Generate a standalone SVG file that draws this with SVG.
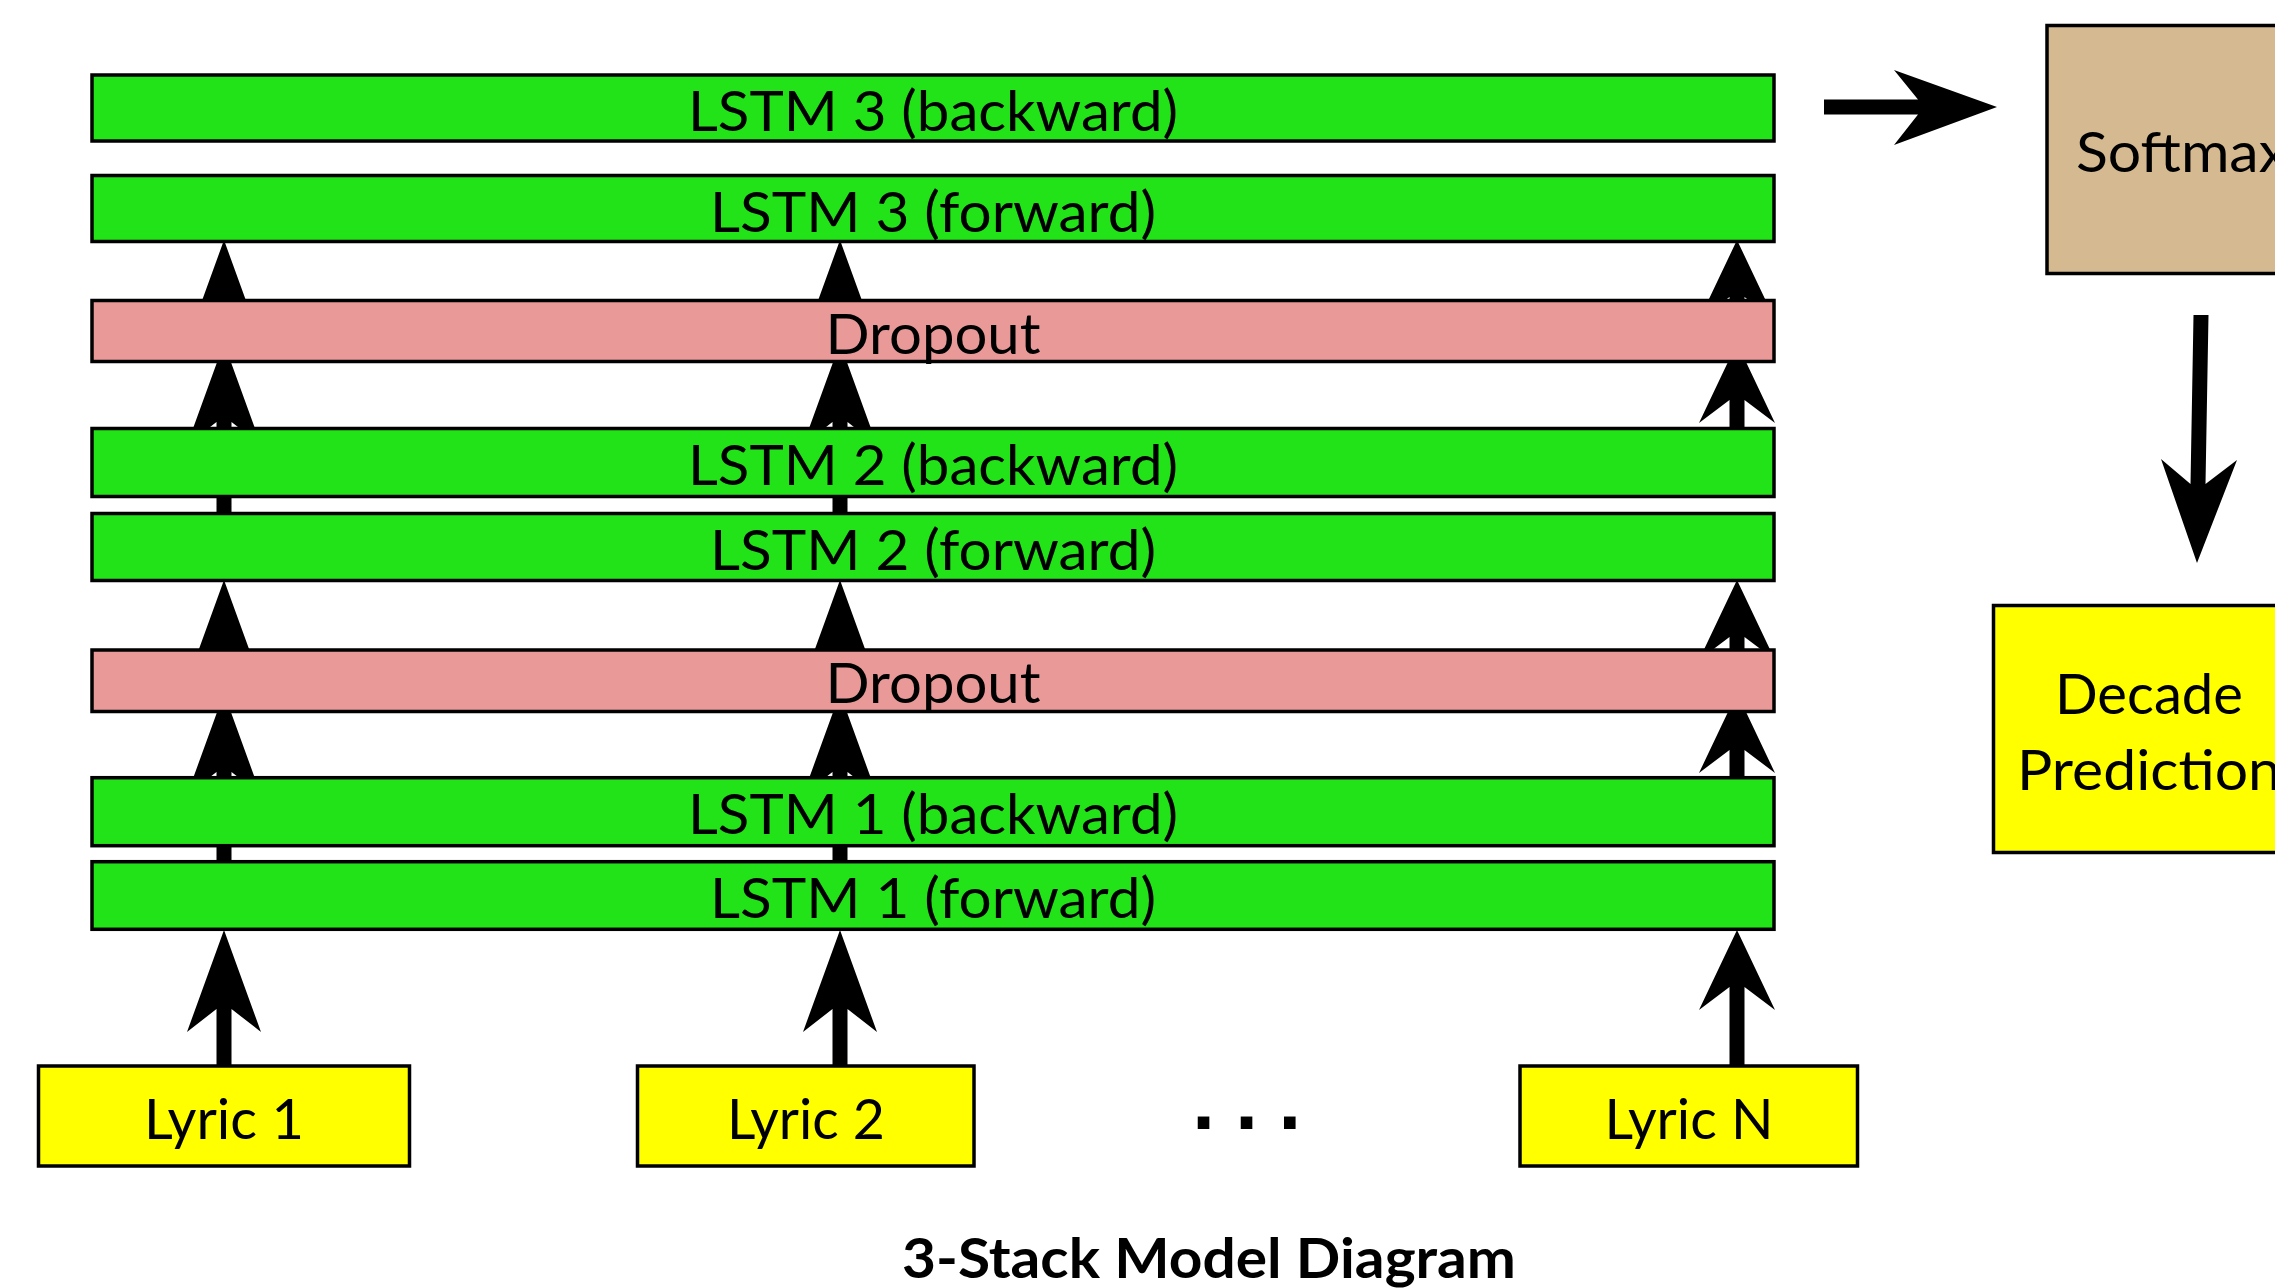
<svg xmlns="http://www.w3.org/2000/svg" width="2275" height="1288" viewBox="0 0 2275 1288">
  <style>
    .box { stroke: #000; stroke-width: 3.5; }
    .lstm { fill: #22e318; }
    .drop { fill: #ea9999; }
    .input { fill: #ffff00; }
    .soft { fill: #d4b991; }
    .label { font-family: "Lato", "Open Sans", sans-serif; font-size: 56px; fill: #000; text-anchor: middle; }
    .title { font-family: "Lato", "Open Sans", sans-serif; font-size: 56px; font-weight: 700; fill: #000; text-anchor: middle; }
    .dots { font-family: "DejaVu Sans", sans-serif; font-size: 66px; font-weight: 700; fill: #000; letter-spacing: 18px; }
    .arrow { fill: #000; }
  </style>

  <!-- Connectors are drawn first so the layer bars sit on top of them -->
  <g id="connectors" class="arrow">
    <!-- column 1 (x = 224) -->
    <path d="M216.5,1066 V1009 L187,1032 L224,930 L261,1032 L231.5,1009 V1066 Z"/>
    <rect x="216.5" y="840" width="15" height="30"/>
    <path d="M216.5,800 V772 L187,795 L224,693 L261,795 L231.5,772 V800 Z"/>
    <path d="M216.5,700 V659 L187,682 L224,580 L261,682 L231.5,659 V700 Z"/>
    <rect x="216.5" y="490" width="15" height="30"/>
    <path d="M216.5,440 V422 L187,445 L224,343 L261,445 L231.5,422 V440 Z"/>
    <path d="M216.5,340 V319 L187,342 L224,240 L261,342 L231.5,319 V340 Z"/>

    <!-- column 2 (x = 840) -->
    <path d="M832.5,1066 V1009 L803,1032 L840,930 L877,1032 L847.5,1009 V1066 Z"/>
    <rect x="832.5" y="840" width="15" height="30"/>
    <path d="M832.5,800 V772 L803,795 L840,693 L877,795 L847.5,772 V800 Z"/>
    <path d="M832.5,700 V659 L803,682 L840,580 L877,682 L847.5,659 V700 Z"/>
    <rect x="832.5" y="490" width="15" height="30"/>
    <path d="M832.5,440 V422 L803,445 L840,343 L877,445 L847.5,422 V440 Z"/>
    <path d="M832.5,340 V319 L803,342 L840,240 L877,342 L847.5,319 V340 Z"/>

    <!-- column 3 (x = 1737), shorter heads -->
    <path d="M1729.5,1066 V987 L1699,1010 L1737,930 L1775,1010 L1744.5,987 V1066 Z"/>
    <path d="M1729.5,790 V750 L1699,773 L1737,693 L1775,773 L1744.5,750 V790 Z"/>
    <path d="M1729.5,690 V637 L1699,660 L1737,580 L1775,660 L1744.5,637 V690 Z"/>
    <path d="M1729.5,440 V400 L1699,423 L1737,343 L1775,423 L1744.5,400 V440 Z"/>
    <path d="M1729.5,340 V297 L1699,320 L1737,240 L1775,320 L1744.5,297 V340 Z"/>

    <!-- top layer to softmax -->
    <path d="M1824,99.5 H1918 L1894,70 L1997,107 L1894,145 L1918,114.5 H1824 Z"/>
    <!-- softmax to prediction -->
    <path d="M2193.5,315 H2208.5 L2205.5,484 L2237,460 L2197,563 L2161,459 L2190.5,484 Z"/>
  </g>

  <g id="lstm3-backward">
    <rect class="box lstm" x="92" y="75" width="1682" height="66"/>
    <text class="label" x="933" y="131" textLength="490" lengthAdjust="spacingAndGlyphs">LSTM 3 (backward)</text>
  </g>
  <g id="lstm3-forward">
    <rect class="box lstm" x="92" y="175.5" width="1682" height="66"/>
    <text class="label" x="933" y="231.5" textLength="446" lengthAdjust="spacingAndGlyphs">LSTM 3 (forward)</text>
  </g>
  <g id="dropout-2">
    <rect class="box drop" x="92" y="300.5" width="1682" height="61"/>
    <text class="label" x="933" y="353.5" textLength="215" lengthAdjust="spacingAndGlyphs">Dropout</text>
  </g>
  <g id="lstm2-backward">
    <rect class="box lstm" x="92" y="428.5" width="1682" height="68"/>
    <text class="label" x="933" y="484.5" textLength="490" lengthAdjust="spacingAndGlyphs">LSTM 2 (backward)</text>
  </g>
  <g id="lstm2-forward">
    <rect class="box lstm" x="92" y="513.5" width="1682" height="67"/>
    <text class="label" x="933" y="569.5" textLength="446" lengthAdjust="spacingAndGlyphs">LSTM 2 (forward)</text>
  </g>
  <g id="dropout-1">
    <rect class="box drop" x="92" y="650" width="1682" height="61.5"/>
    <text class="label" x="933" y="703" textLength="215" lengthAdjust="spacingAndGlyphs">Dropout</text>
  </g>
  <g id="lstm1-backward">
    <rect class="box lstm" x="92" y="777.7" width="1682" height="68"/>
    <text class="label" x="933" y="834" textLength="490" lengthAdjust="spacingAndGlyphs">LSTM 1 (backward)</text>
  </g>
  <g id="lstm1-forward">
    <rect class="box lstm" x="92" y="861.7" width="1682" height="67.6"/>
    <text class="label" x="933" y="918" textLength="446" lengthAdjust="spacingAndGlyphs">LSTM 1 (forward)</text>
  </g>

  <g id="lyric-1">
    <rect class="box input" x="38.5" y="1066" width="371" height="100"/>
    <text class="label" x="224" y="1139" textLength="160" lengthAdjust="spacingAndGlyphs">Lyric 1</text>
  </g>
  <g id="lyric-2">
    <rect class="box input" x="637.5" y="1066" width="336.5" height="100"/>
    <text class="label" x="806" y="1139" textLength="158" lengthAdjust="spacingAndGlyphs">Lyric 2</text>
  </g>
  <g id="ellipsis">
    <text class="dots" x="1191" y="1129">...</text>
  </g>
  <g id="lyric-n">
    <rect class="box input" x="1520" y="1066" width="337.5" height="100"/>
    <text class="label" x="1689" y="1139" textLength="169" lengthAdjust="spacingAndGlyphs">Lyric N</text>
  </g>

  <g id="softmax">
    <rect class="box soft" x="2047" y="25.5" width="272" height="248"/>
    <text class="label" x="2182" y="172" textLength="212" lengthAdjust="spacingAndGlyphs">Softmax</text>
  </g>
  <g id="decade-prediction">
    <rect class="box input" x="1993.5" y="605.5" width="313" height="247"/>
    <text class="label" x="2149" y="714" textLength="188" lengthAdjust="spacingAndGlyphs">Decade</text>
    <text class="label" x="2149" y="790" textLength="264" lengthAdjust="spacingAndGlyphs">Prediction</text>
  </g>

  <g id="caption">
    <text class="title" x="1209" y="1278" textLength="614" lengthAdjust="spacingAndGlyphs">3-Stack Model Diagram</text>
  </g>
</svg>
